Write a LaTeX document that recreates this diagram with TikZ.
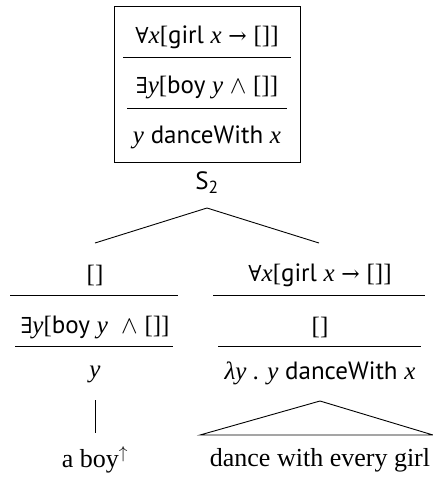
\documentclass[tikz,border=0pt]{standalone}
\usepackage{fontspec}
\setmainfont{Liberation Serif}
\newfontfamily\sfx{PT Sans}
\newfontfamily\symf[Scale=0.88]{DejaVu Serif}
\newcommand\iv[1]{{\rmfamily\itshape #1}}
\newcommand\sy[1]{{\symf #1}}
\newcommand\br[1]{{\rmfamily #1}}
\newcommand\wdg{\mbox{$\boldsymbol{\wedge}$}}
\usepackage{amsmath}
\begin{document}
\begin{tikzpicture}[x=1pt,y=-1pt,
  every node/.style={inner sep=0pt, anchor=center},
  lbl/.style={font=\fontsize{25}{30}\selectfont\sfx},
  word/.style={font=\fontsize{26}{31}\selectfont\rmfamily},
  rule/.style={line width=0.9pt},
  edge/.style={line width=0.9pt}]
\useasboundingbox (0,0) rectangle (433,477);
% top box
\draw[rule] (114,6) rectangle (300,162);
\node[lbl] (t1) at (207,37) {\sy{∀}\iv{x}\br{[}girl \iv{x} \sy{→} \br{[]]}};
\node[lbl] (t2) at (207,87) {\sy{∃}\iv{y}\br{[}boy \iv{y} $\wedge$ \br{[]]}};
\node[lbl] (t3) at (207,137) {\iv{y} danceWith \iv{x}};
\coordinate (t1a) at (123,57); \coordinate (t1b) at (291,57);
\coordinate (t2a) at (127,108); \coordinate (t2b) at (287,108);
\draw[rule] (t1a) -- (t1b);
\draw[rule] (t2a) -- (t2b);
\node[lbl] (s2) at (207,183) {S\textsubscript{2}};
% branches
\coordinate (apex) at (207,208);
\coordinate (lt) at (95,243);
\coordinate (rt) at (319,243);
\draw[edge] (lt) -- (apex) -- (rt);
% left subtree
\node[lbl] (l1) at (95,275) {\br{[]}};
\coordinate (l1a) at (10,295); \coordinate (l1b) at (178,295);
\draw[rule] (l1a) -- (l1b);
\node[lbl] (l2) at (95,327) {\sy{∃}\iv{y}\br{[}boy \iv{y}\ \ $\wedge$ \br{[]]}};
\coordinate (l2a) at (15,346); \coordinate (l2b) at (173,346);
\draw[rule] (l2a) -- (l2b);
\node[lbl] (l3) at (95,374) {\iv{y}};
\coordinate (lva) at (95,400); \coordinate (lvb) at (95,433);
\draw[edge] (lva) -- (lvb);
\node[word] (lw) at (95,460) {a boy\textsuperscript{$\uparrow$}};
% right subtree
\node[lbl] (r1) at (320,275) {\sy{∀}\iv{x}\br{[}girl \iv{x} \sy{→} \br{[]]}};
\coordinate (r1a) at (213,295); \coordinate (r1b) at (425,295);
\draw[rule] (r1a) -- (r1b);
\node[lbl] (r2) at (320,327) {\br{[]}};
\coordinate (r2a) at (218,346); \coordinate (r2b) at (421,346);
\draw[rule] (r2a) -- (r2b);
\node[lbl] (r3) at (320,373) {\iv{λy} . \iv{y} danceWith \iv{x}};
\coordinate (ta) at (320,401); \coordinate (tb) at (200,435); \coordinate (tc) at (433,435);
\draw[edge] (ta) -- (tb) -- (tc) -- cycle;
\node[word] (rw) at (320,460) {dance with every girl};
\end{tikzpicture}
\end{document}
